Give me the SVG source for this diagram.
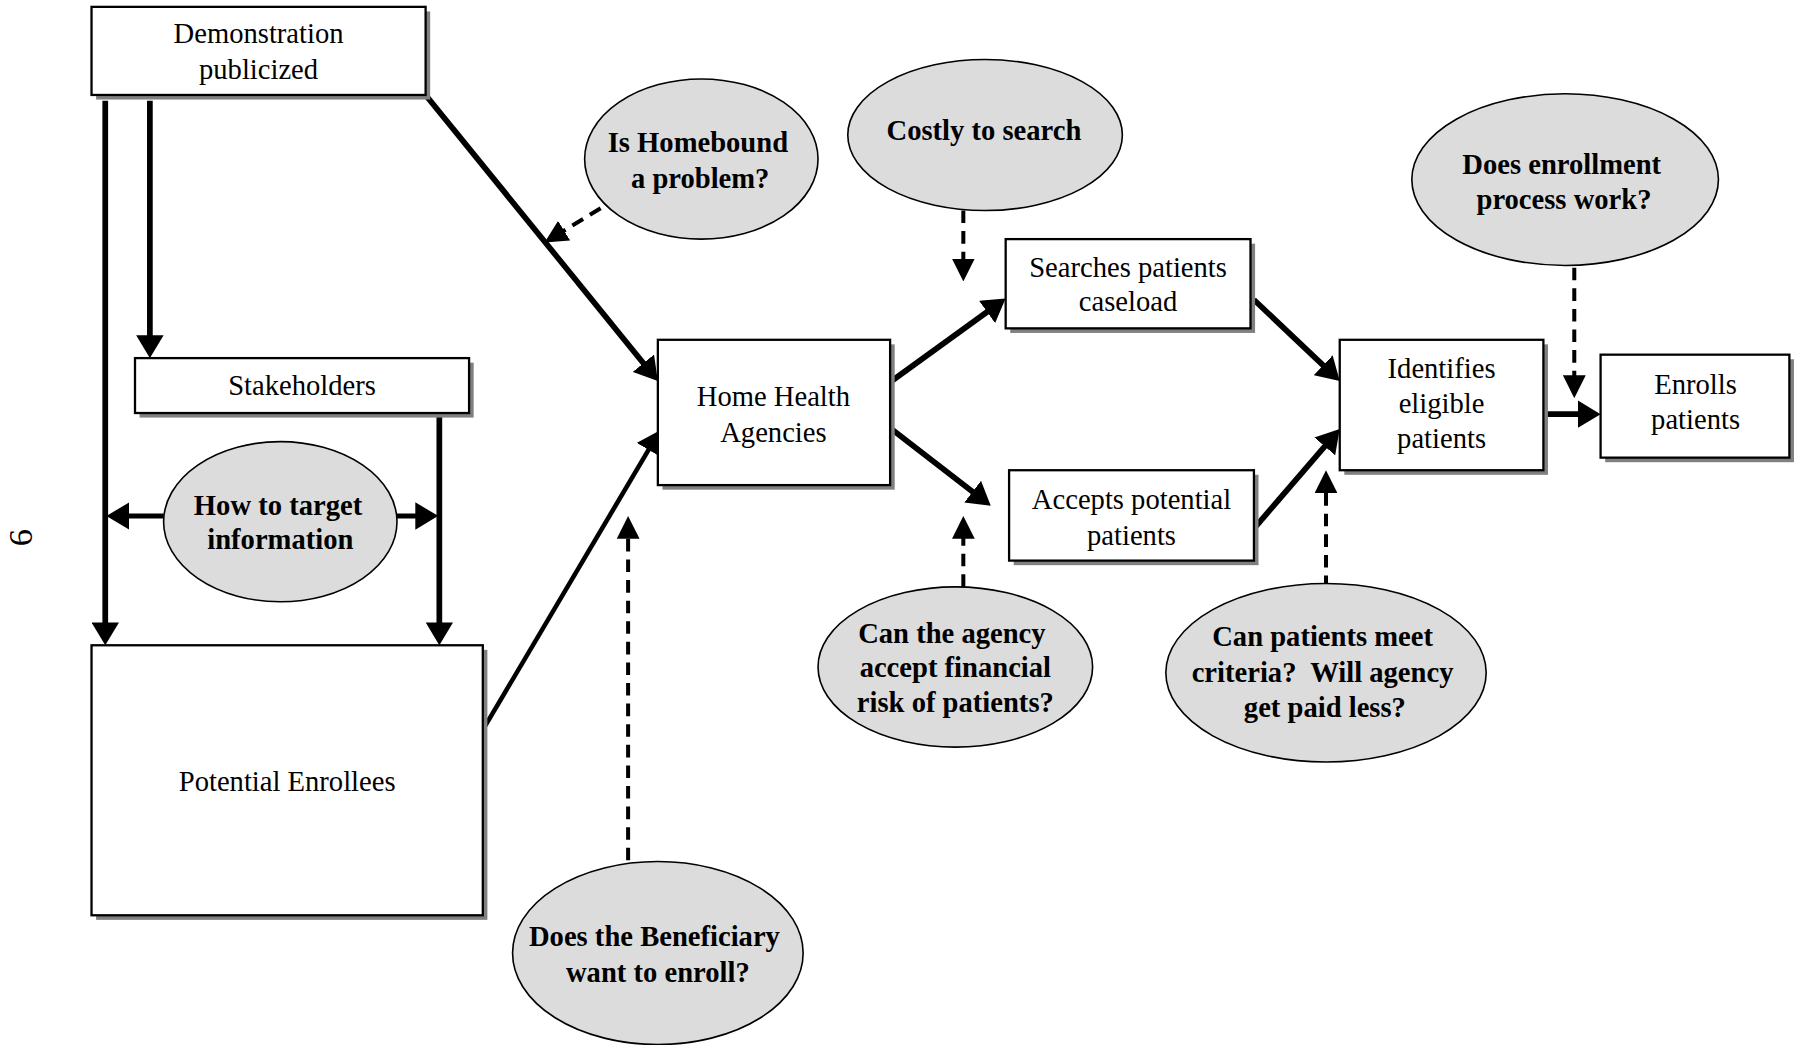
<svg xmlns="http://www.w3.org/2000/svg" width="1794" height="1045" viewBox="0 0 1794 1045">
<defs>
<marker id="ah" markerUnits="userSpaceOnUse" markerWidth="20" markerHeight="24" refX="15" refY="12" orient="auto"><path d="M0,0 L20,12 L0,24 z" fill="#000"/></marker>
<marker id="ad" markerUnits="userSpaceOnUse" markerWidth="20" markerHeight="20" refX="14" refY="10" orient="auto"><path d="M0,0 L20,10 L0,20 z" fill="#000"/></marker>
<style>
.sh{fill:#808080}
.bx{fill:#fff;stroke:#000;stroke-width:2}
.el{fill:#dcdcdc;stroke:#000;stroke-width:1.4}
.t{font-family:"Liberation Serif","Times New Roman",serif;font-size:25px;text-anchor:middle;fill:#000}
.b{font-weight:bold}
.s{fill:none;stroke:#000;stroke-width:5;marker-end:url(#ah)}
.d{fill:none;stroke:#000;stroke-width:3.5;stroke-dasharray:11 7;marker-end:url(#ad)}
</style>
</defs>
<rect width="1794" height="1045" fill="#fff"/>
<g transform="scale(1.1441)">
<text class="t" style="font-size:30px" transform="translate(28,470) rotate(-90)">6</text>
<g id="connectors">
<line class="s" x1="92" y1="88" x2="92" y2="559"/>
<line class="s" x1="131" y1="88" x2="131" y2="308"/>
<line class="s" x1="384" y1="361" x2="384" y2="559"/>
<line class="s" style="stroke-width:4.2" x1="143" y1="451" x2="98" y2="451"/>
<line class="s" style="stroke-width:4.2" x1="347" y1="451" x2="378" y2="451"/>
<line class="s" x1="372" y1="83" x2="571.8" y2="329.1"/>
<line class="s" style="stroke-width:4" x1="422" y1="638" x2="574.5" y2="380.3"/>
<line class="s" x1="778" y1="334" x2="874.9" y2="263.9"/>
<line class="s" x1="778" y1="374" x2="862" y2="438.9"/>
<line class="s" x1="1096" y1="262" x2="1167.4" y2="329.6"/>
<line class="s" x1="1096" y1="462" x2="1167.7" y2="378.8"/>
<line class="s" x1="1350" y1="362" x2="1394" y2="362"/>
<line class="d" x1="525" y1="182" x2="481.1" y2="208.9"/>
<line class="d" x1="842" y1="184" x2="842" y2="240"/>
<line class="d" x1="1376" y1="234" x2="1376" y2="342"/>
<line class="d" x1="842" y1="513" x2="842" y2="457"/>
<line class="d" x1="1159" y1="514" x2="1159" y2="417"/>
<line class="d" x1="549" y1="752" x2="549" y2="457"/>
</g>
<g id="demonstration">
<rect class="sh" x="84" y="10" width="292" height="77"/>
<rect class="bx" x="80" y="6" width="292" height="77"/>
<text class="t" x="226" y="38">Demonstration</text>
<text class="t" x="226" y="69">publicized</text>
</g>
<g id="stakeholders">
<rect class="sh" x="122" y="317" width="292" height="48"/>
<rect class="bx" x="118" y="313" width="292" height="48"/>
<text class="t" x="264" y="345">Stakeholders</text>
</g>
<g id="potential-enrollees">
<rect class="sh" x="84" y="568" width="342" height="236"/>
<rect class="bx" x="80" y="564" width="342" height="236"/>
<text class="t" x="251" y="691">Potential Enrollees</text>
</g>
<g id="home-health">
<rect class="sh" x="579" y="301" width="203" height="127"/>
<rect class="bx" x="575" y="297" width="203" height="127"/>
<text class="t" x="676" y="355">Home Health</text>
<text class="t" x="676" y="386">Agencies</text>
</g>
<g id="searches">
<rect class="sh" x="883" y="213" width="214" height="78"/>
<rect class="bx" x="879" y="209" width="214" height="78"/>
<text class="t" x="986" y="242">Searches patients</text>
<text class="t" x="986" y="272">caseload</text>
</g>
<g id="accepts">
<rect class="sh" x="886" y="415" width="214" height="79"/>
<rect class="bx" x="882" y="411" width="214" height="79"/>
<text class="t" x="989" y="445">Accepts potential</text>
<text class="t" x="989" y="476">patients</text>
</g>
<g id="identifies">
<rect class="sh" x="1175" y="301" width="178" height="114"/>
<rect class="bx" x="1171" y="297" width="178" height="114"/>
<text class="t" x="1260" y="330">Identifies</text>
<text class="t" x="1260" y="361">eligible</text>
<text class="t" x="1260" y="392">patients</text>
</g>
<g id="enrolls">
<rect class="sh" x="1403" y="314" width="165" height="90"/>
<rect class="bx" x="1399" y="310" width="165" height="90"/>
<text class="t" x="1482" y="344">Enrolls</text>
<text class="t" x="1482" y="375">patients</text>
</g>
<g id="q-homebound">
<ellipse class="el" cx="613" cy="139" rx="102" ry="70"/>
<text class="t b" x="610" y="133">Is Homebound</text>
<text class="t b" x="612" y="164">a problem?</text>
</g>
<g id="q-costly">
<ellipse class="el" cx="861" cy="118" rx="120" ry="66"/>
<text class="t b" x="860" y="122">Costly to search</text>
</g>
<g id="q-enrollment">
<ellipse class="el" cx="1368" cy="157" rx="134" ry="75"/>
<text class="t b" x="1365" y="152">Does enrollment</text>
<text class="t b" x="1367" y="183">process work?</text>
</g>
<g id="q-target">
<ellipse class="el" cx="245" cy="456" rx="102" ry="70"/>
<text class="t b" x="243" y="450">How to target</text>
<text class="t b" x="245" y="480">information</text>
</g>
<g id="q-agency">
<ellipse class="el" cx="835" cy="583" rx="120" ry="70"/>
<text class="t b" x="832" y="562">Can the agency</text>
<text class="t b" x="835" y="592">accept financial</text>
<text class="t b" x="835" y="622">risk of patients?</text>
</g>
<g id="q-criteria">
<ellipse class="el" cx="1159" cy="588" rx="140" ry="78"/>
<text class="t b" x="1156" y="565">Can patients meet</text>
<text class="t b" x="1156" y="596" xml:space="preserve">criteria?  Will agency</text>
<text class="t b" x="1158" y="627">get paid less?</text>
</g>
<g id="q-beneficiary">
<ellipse class="el" cx="575" cy="833" rx="127" ry="80"/>
<text class="t b" x="572" y="827">Does the Beneficiary</text>
<text class="t b" x="575" y="858">want to enroll?</text>
</g>
</g>
</svg>
